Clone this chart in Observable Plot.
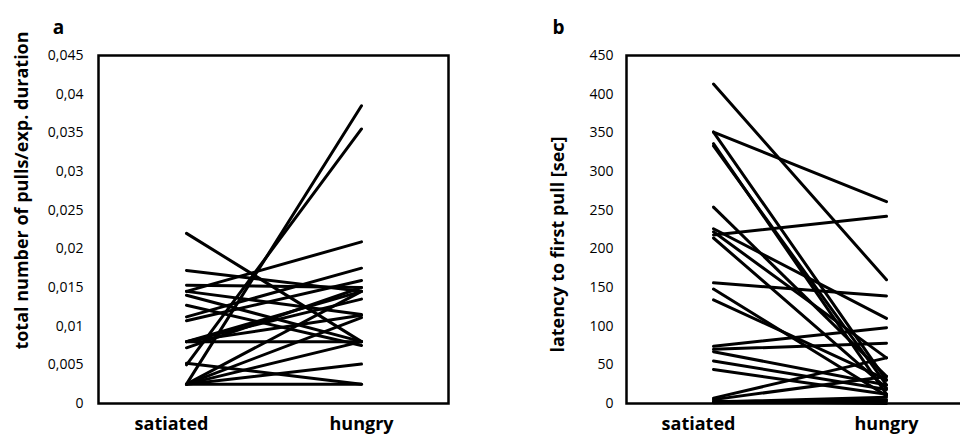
<!DOCTYPE html>
<html>
<head>
<meta charset="utf-8">
<script src="https://cdn.jsdelivr.net/npm/d3@7"></script>
<script src="https://cdn.jsdelivr.net/npm/@observablehq/plot@0.6"></script>
<style>
  html, body { margin: 0; padding: 0; background: #fff; overflow: hidden; }
  #wrap { position: relative; width: 960px; height: 436px; overflow: hidden; font-family: "Open Sans", sans-serif; }
  #pa, #pb { position: absolute; top: 0; }
  #pa { left: 0; width: 470px; }
  #pb { left: 480px; width: 492px; }
  #wrap svg { max-width: none !important; }
</style>
</head>
<body>
<div id="wrap"><div id="pa"></div><div id="pb"></div></div>
<script>
const categories = ["satiated", "hungry"];

// panel a: total number of pulls / experiment duration
const pullsSatiated = [0.022, 0.0025, 0.005, 0.0172, 0.0153, 0.0145, 0.014, 0.0127, 0.0112, 0.0107, 0.008, 0.008, 0.008, 0.008, 0.0025, 0.0025, 0.0025, 0.0025, 0.0025, 0.0052, 0.0072, 0.0145];
const pullsHungry   = [0.008, 0.0385, 0.0355, 0.0145, 0.015, 0.0209, 0.008, 0.0075, 0.0175, 0.0159, 0.0145, 0.0135, 0.008, 0.0114, 0.0111, 0.0025, 0.0051, 0.008, 0.0145, 0.0025, 0.015, 0.0115];
const pullsTicks = [0, 0.005, 0.01, 0.015, 0.02, 0.025, 0.03, 0.035, 0.04, 0.045];
const pullsTickLabels = ["0", "0,005", "0,01", "0,015", "0,02", "0,025", "0,03", "0,035", "0,04", "0,045"];

// panel b: latency to first pull [sec]
const latencySatiated = [413, 351, 351, 336, 333, 254, 226, 218, 214, 156, 148, 134, 74, 70, 67, 55, 44, 7, 5, 3, 2, 1, 2, 222];
const latencyHungry   = [160, 261, 30, 12, 24, 35, 110, 242, 20, 139, 10, 31, 98, 78, 24, 18, 12, 59, 35, 0, 3, 5, 8, 59];
const latencyTicks = [0, 50, 100, 150, 200, 250, 300, 350, 400, 450];
const latencyTickLabels = ["0", "50", "100", "150", "200", "250", "300", "350", "400", "450"];

function toRows(sat, hun) {
  const rows = [];
  sat.forEach((v, i) => {
    rows.push({id: i, condition: categories[0], value: v});
    rows.push({id: i, condition: categories[1], value: hun[i]});
  });
  return rows;
}

function panel({rows, ticks, tickLabels, domain, width, marginLeft, marginRight, tickPadding, letter, letterDx, title, titleDx, titleDy}) {
  return Plot.plot({
    width, height: 436,
    marginLeft, marginRight, marginTop: 55, marginBottom: 33,
    style: {fontFamily: "'Open Sans', sans-serif", background: "#fff"},
    x: {type: "point", domain: categories, padding: 0.5, axis: null},
    y: {domain, axis: null},
    marks: [
      Plot.line(rows, {x: "condition", y: "value", z: "id", stroke: "#000", strokeWidth: 3}),
      Plot.frame({stroke: "#000", strokeWidth: 2.5}),
      Plot.axisY(ticks, {tickSize: 0, tickPadding, tickFormat: (d, i) => tickLabels[i], fontSize: 14, fill: "#000", label: null}),
      Plot.text(["satiated"], {x: d => d, frameAnchor: "bottom", dy: 26, dx: -15, fontSize: 18, fontWeight: "bold", fill: "#000"}),
      Plot.text(["hungry"], {x: d => d, frameAnchor: "bottom", dy: 26, dx: 0, fontSize: 18, fontWeight: "bold", fill: "#000"}),
      Plot.text([title], {frameAnchor: "left", textAnchor: "middle", dx: titleDx, dy: titleDy, rotate: -90, fontSize: 18, fontWeight: "bold", fill: "#000"}),
      Plot.text([letter], {frameAnchor: "top-left", textAnchor: "middle", dx: letterDx, dy: -35, fontSize: 19, fontWeight: "bold", fill: "#000"})
    ]
  });
}

document.getElementById("pa").appendChild(panel({
  rows: toRows(pullsSatiated, pullsHungry),
  ticks: pullsTicks, tickLabels: pullsTickLabels, domain: [0, 0.045],
  width: 470, marginLeft: 98, marginRight: 22, tickPadding: 15,
  letter: "a", letterDx: -40,
  title: "total number of pulls/exp. duration", titleDx: -76, titleDy: -39
}));

document.getElementById("pb").appendChild(panel({
  rows: toRows(latencySatiated, latencyHungry),
  ticks: latencyTicks, tickLabels: latencyTickLabels, domain: [0, 450],
  width: 492, marginLeft: 146, marginRight: 0, tickPadding: 13,
  letter: "b", letterDx: -68,
  title: "latency to first pull [sec]", titleDx: -68, titleDy: 15
}));
</script>
</body>
</html>
